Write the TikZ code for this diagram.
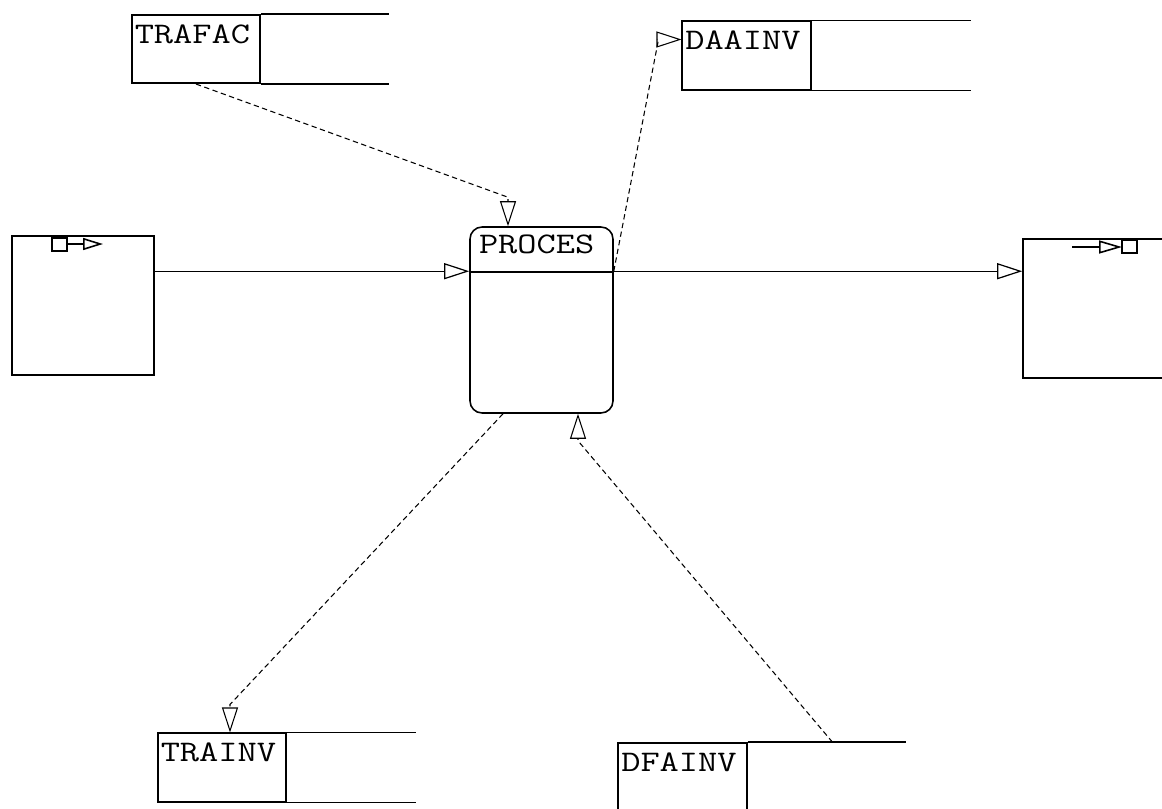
\documentclass[tikz,border=0pt]{standalone}
\usepackage{fontspec}
\setmonofont{Latin Modern Mono}[FakeStretch=1.25]
\usetikzlibrary{arrows.meta}

\begin{document}
\begin{tikzpicture}[x=0.02cm, y=-0.02cm, every node/.style={font=\ttfamily\fontsize{17}{19}\selectfont}, >={Triangle[open, length=0.5cm, width=0.32cm]}, line width=0.9pt,
	store/.style={draw, minimum width=2.57cm, minimum height=1.37cm, inner sep=0pt},
	lab/.style={anchor=north west, inner sep=0pt, xshift=0.06cm, yshift=-0.2cm},
	flow/.style={->, line width=0.7pt},
	dat/.style={->, line width=0.6pt, densely dashed}]
	\useasboundingbox (0,0) rectangle (1162,808);
	\clip (0,0) rectangle (1162,808);
	% process
	\node[draw, rounded corners=0.24cm, minimum width=2.86cm, minimum height=3.72cm] (proces) at (541.5,320) {};
	\node[lab, xshift=0.12cm, yshift=0.05cm] at (proces.north west) {PROCES};
	\draw ([yshift=-0.92cm]proces.north west) -- ([yshift=-0.92cm]proces.north east);
	\coordinate (pin) at ([yshift=-0.9cm]proces.north west);
	\coordinate (pout) at ([yshift=-0.9cm]proces.north east);
	% data stores
	\node[store, label={[lab]north west:TRAFAC}] (trafac) at (196,49) {};
	\draw (trafac.north east) -- ++(128,0) (trafac.south east) -- ++(128,0);
	\node[store, label={[lab]north west:DAAINV}] (daainv) at (746.5,55.5) {};
	\draw (daainv.north east) -- ++(159,0) (daainv.south east) -- ++(159,0);
	\node[store, label={[lab]north west:TRAINV}] (trainv) at (222,767.5) {};
	\draw (trainv.north east) -- ++(129,0) (trainv.south east) -- ++(129,0);
	\node[store, minimum height=1.44cm, label={[lab]north west:DFAINV}] (dfainv) at (682.5,779) {};
	\draw (dfainv.north east) -- ++(158,0);
	% source and sink
	\node[draw, minimum width=2.84cm, minimum height=2.78cm] (src) at (83,305.5) {};
	\draw (52,238) rectangle (67,251);
	\draw[-{Triangle[open, length=0.4cm, width=0.24cm]}] (67,244) -- (103,244);
	\node[draw, minimum width=3.14cm, minimum height=2.78cm] (snk) at (1101.5,308.5) {};
	\draw[-{Triangle[open, length=0.46cm, width=0.26cm]}] (1072,247) -- (1122,247);
	\draw (1122,240) rectangle (1137,253);
	% flows
	\draw[flow] (src.east |- pin) -- (pin);
	\draw[flow] (pout) -- (snk.west |- pout);
	\coordinate (tfin) at ([xshift=-0.67cm]proces.north);
	\draw[dat] (trafac.south) -- ([yshift=0.58cm]tfin) -- (tfin);
	\coordinate (dain) at ([yshift=0.32cm]daainv.west);
	\draw[dat] (pout) -- ([xshift=-0.46cm]dain) -- (dain);
	\coordinate (trin) at ([xshift=0.16cm]trainv.north);
	\draw[dat] ([xshift=-0.77cm]proces.south) -- ([yshift=0.56cm]trin) -- (trin);
	\coordinate (dfout) at ([xshift=0.73cm]proces.south);
	\draw[dat] ([xshift=1.7cm]dfainv.north east) -- ([yshift=-0.54cm]dfout) -- (dfout);
\end{tikzpicture}
\end{document}
